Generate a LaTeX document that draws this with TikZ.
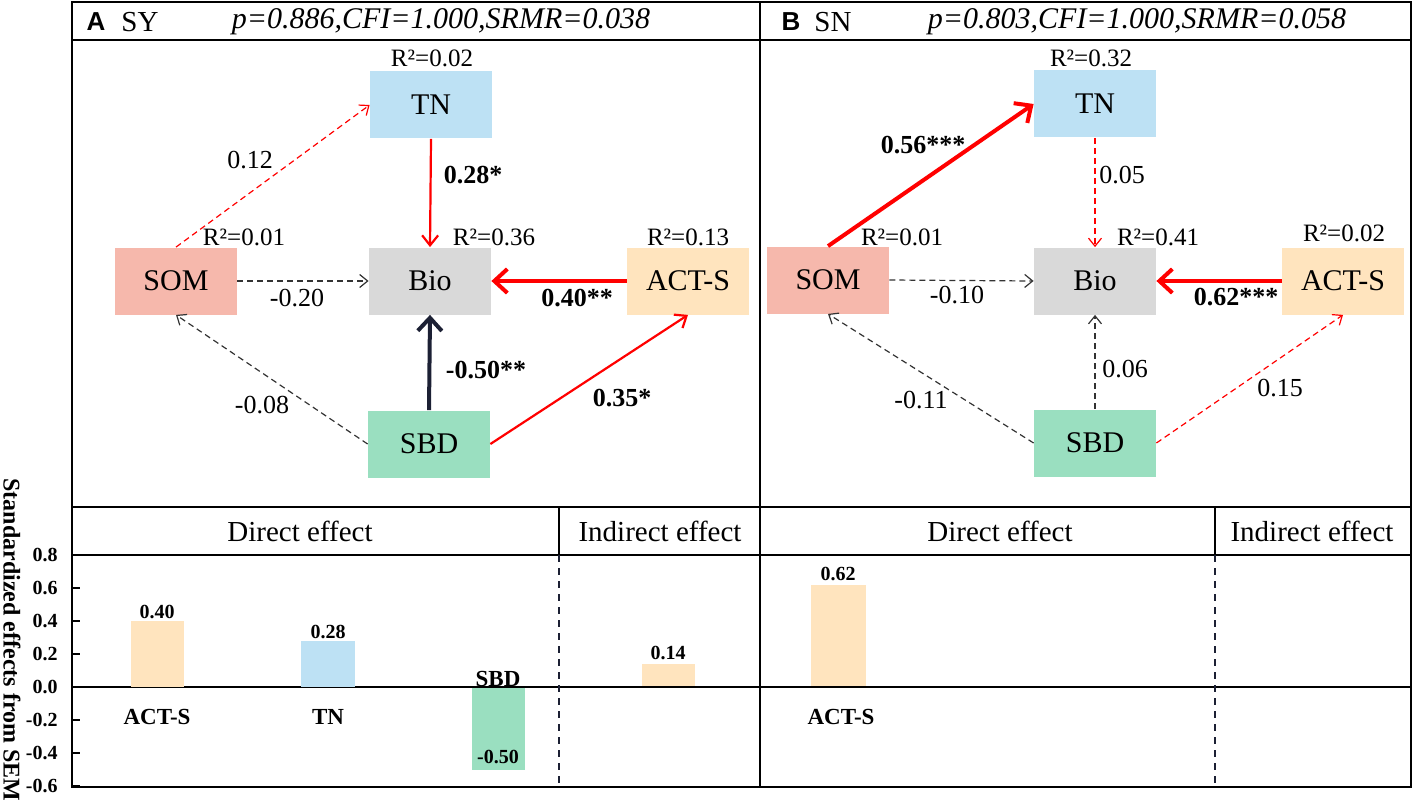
\documentclass[tikz,border=0pt]{standalone}
\usepackage{fontspec}
\setmainfont{Liberation Serif}
\newfontfamily\panelfont{Liberation Sans}
\usetikzlibrary{calc, positioning, arrows.meta}

\definecolor{somfill}{RGB}{246,184,172}
\definecolor{tnfill}{RGB}{189,225,244}
\definecolor{biofill}{RGB}{217,217,217}
\definecolor{actfill}{RGB}{255,228,190}
\definecolor{sbdfill}{RGB}{154,223,192}
\definecolor{navy}{RGB}{28,32,52}
\definecolor{pathred}{RGB}{255,0,0}
\definecolor{pathgrey}{RGB}{51,51,51}

\begin{document}
\begin{tikzpicture}[x=0.5pt, y=-0.5pt]
    \tikzset{
      var/.style={
        minimum width=61pt, minimum height=33.5pt, inner sep=0pt,
        font=\fontsize{15}{15}\selectfont,
      },
      rsq/.style={font=\fontsize{12.5}{12.5}\selectfont, inner sep=1pt},
      coef/.style={font=\fontsize{13}{13}\selectfont, inner sep=1pt},
      sig/.style={font=\fontsize{13}{13}\selectfont\bfseries, inner sep=1pt},
      nsblack/.style={-{Straight Barb[length=4pt, width=6.5pt]}, draw=pathgrey, line width=0.6pt, dash pattern=on 3pt off 2pt},
      nsred/.style={-{Straight Barb[length=4pt, width=6.5pt]}, draw=pathred, line width=0.6pt, dash pattern=on 3pt off 2pt},
      posmid/.style={-{Straight Barb[length=5pt, width=8pt]}, draw=pathred, line width=1.1pt},
      posbig/.style={-{Straight Barb[length=6.5pt, width=12pt]}, draw=pathred, line width=2pt},
      negbig/.style={-{Straight Barb[length=6.5pt, width=12pt]}, draw=navy, line width=2pt},
      frame/.style={draw=black, line width=1.2pt},
      divider/.style={draw=navy, line width=1pt, dash pattern=on 3.5pt off 3pt},
      heading/.style={font=\fontsize{14.5}{14.5}\selectfont},
      fit index/.style={font=\fontsize{15}{15}\selectfont\itshape},
      barval/.style={font=\fontsize{10}{10}\selectfont\bfseries, inner sep=1pt},
      barname/.style={font=\fontsize{11.5}{11.5}\selectfont\bfseries, inner sep=1pt},
    }

    \useasboundingbox (0,0) rectangle (1417,802);

    % frame and table lines
    \draw[frame] (72,2) rectangle (1411,787);
    \draw[frame] (72,40) -- (1411,40);
    \draw[frame] (760,2) -- (760,787);
    \draw[frame] (72,507) -- (1411,507);
    \draw[frame] (72,555) -- (1411,555);
    \draw[frame] (72,687) -- (1411,687);
    \draw[frame] (559,507) -- (559,555);
    \draw[frame] (1215,507) -- (1215,555);
    \draw[divider] (559,555) -- (559,787);
    \draw[divider] (1215,555) -- (1215,787);

    % panel titles
    \node[font=\panelfont\bfseries\fontsize{13}{13}\selectfont] (tagA) at (96,22) {A};
    \node[heading] (siteA) at (140,22) {SY};
    \node[fit index] (fitA) at (441,22) {p=0.886,CFI=1.000,SRMR=0.038};
    \node[font=\panelfont\bfseries\fontsize{13}{13}\selectfont] (tagB) at (791,22) {B};
    \node[heading] (siteB) at (833,22) {SN};
    \node[fit index] (fitB) at (1137,22) {p=0.803,CFI=1.000,SRMR=0.058};

    % SEM, panel A
    \node[var, fill=somfill] (somA) at (176,281) {SOM};
    \node[var, fill=tnfill] (tnA) at (431,105) {TN};
    \node[var, fill=biofill] (bioA) at (430,281) {Bio};
    \node[var, fill=actfill] (actA) at (688,281) {ACT-S};
    \node[var, fill=sbdfill] (sbdA) at (429,444) {SBD};

    \node[rsq] (rtnA) at ($(tnA) + (1,-47)$) {R²=0.02};
    \node[rsq] (rsomA) at ($(somA) + (68,-44)$) {R²=0.01};
    \node[rsq] (rbioA) at ($(bioA) + (64,-44)$) {R²=0.36};
    \node[rsq] (ractA) at ($(actA) + (0,-44)$) {R²=0.13};

    \draw[nsred] (somA.north) -- (tnA.west);
    \draw[posmid] (tnA.south) -- (bioA.north);
    \draw[nsblack] (somA.east) -- (bioA.west);
    \draw[posbig] (actA.west) -- (bioA.east);
    \draw[negbig] (sbdA.north) -- (bioA.south);
    \draw[nsblack] (sbdA.west) -- (somA.south);
    \draw[posmid] (sbdA.east) -- (actA.south);

    \node[coef] (cA1) at (250,160) {0.12};
    \node[sig] (cA2) at (473,175) {0.28*};
    \node[coef] (cA3) at (297,298) {-0.20};
    \node[sig] (cA4) at (577,298) {0.40**};
    \node[sig] (cA5) at (486,370) {-0.50**};
    \node[coef] (cA6) at (262,405) {-0.08};
    \node[sig] (cA7) at (622,398) {0.35*};

    % SEM, panel B
    \node[var, fill=somfill] (somB) at (828,280) {SOM};
    \node[var, fill=tnfill] (tnB) at (1095,104) {TN};
    \node[var, fill=biofill] (bioB) at (1095,281) {Bio};
    \node[var, fill=actfill] (actB) at (1343,281) {ACT-S};
    \node[var, fill=sbdfill] (sbdB) at (1095,443) {SBD};

    \node[rsq] (rtnB) at ($(tnB) + (-4,-46)$) {R²=0.32};
    \node[rsq] (rsomB) at ($(somB) + (74,-43)$) {R²=0.01};
    \node[rsq] (rbioB) at ($(bioB) + (63,-44)$) {R²=0.41};
    \node[rsq] (ractB) at ($(actB) + (1,-48)$) {R²=0.02};

    \draw[posbig] (somB.north) -- (tnB.west);
    \draw[nsred] (tnB.south) -- (bioB.north);
    \draw[nsblack] (somB.east) -- (bioB.west);
    \draw[posbig] (actB.west) -- (bioB.east);
    \draw[nsblack] (sbdB.north) -- (bioB.south);
    \draw[nsblack] (sbdB.west) -- (somB.south);
    \draw[nsred] (sbdB.east) -- (actB.south);

    \node[sig] (cB1) at (923,145) {0.56***};
    \node[coef] (cB2) at (1122,175) {0.05};
    \node[coef] (cB3) at (957,295) {-0.10};
    \node[sig] (cB4) at (1236,297) {0.62***};
    \node[coef] (cB5) at (1125,369) {0.06};
    \node[coef] (cB6) at (921,400) {-0.11};
    \node[coef] (cB7) at (1280,388) {0.15};

    % effects table
    \node[heading] (dirA) at (300,531) {Direct effect};
    \node[heading] (indA) at (660,531) {Indirect effect};
    \node[heading] (dirB) at (1000,531) {Direct effect};
    \node[heading] (indB) at (1312,531) {Indirect effect};

    \foreach \y/\t in {555/0.8, 588/0.6, 621/0.4, 654/0.2, 687/0.0, 720/-0.2, 753/-0.4, 786/-0.6} {
      \draw[line width=1pt] (72,\y) -- (80,\y);
      \node[barval, anchor=east] (ytick\y) at (60,\y) {\t};
    }
    \node[font=\fontsize{12}{12}\selectfont\bfseries, rotate=-90, anchor=west, inner sep=0pt] (yaxis) at (12,478)
      {Standardized effects from SEM};

    \fill[actfill] (131,621) rectangle (184,687);
    \node[barval] (vA1) at (157,612) {0.40};
    \node[barname] (nA1) at (157,717) {ACT-S};
    \fill[tnfill] (301,641) rectangle (355,687);
    \node[barval] (vA2) at (328,632) {0.28};
    \node[barname] (nA2) at (328,717) {TN};
    \fill[sbdfill] (472,688) rectangle (525,770);
    \node[barname] (nA3) at (498,679) {SBD};
    \node[barval] (vA3) at (498,757) {-0.50};
    \fill[actfill] (642,664) rectangle (695,686);
    \node[barval] (vA4) at (668,653) {0.14};

    \fill[actfill] (811,585) rectangle (866,686);
    \node[barval] (vB1) at (838,574) {0.62};
    \node[barname] (nB1) at (841,717) {ACT-S};
\end{tikzpicture}
\end{document}
